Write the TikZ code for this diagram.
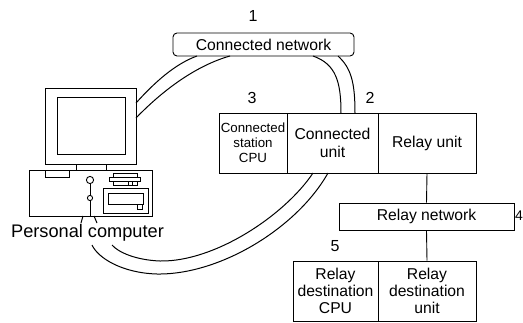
\documentclass[tikz,border=0pt]{standalone}
\usepackage{fontspec}
\setmainfont{Liberation Sans}
\begin{document}
\begin{tikzpicture}[x=1pt,y=-1pt,line width=0.9pt,
  lbl/.style={inner sep=0pt,align=center,font=\fontsize{15.7}{16.7}\selectfont},
  smalllbl/.style={inner sep=0pt,align=center,font=\fontsize{13.3}{14.8}\selectfont},
  numlbl/.style={inner sep=0pt,font=\fontsize{16}{18}\selectfont},
  unitbox/.style={draw,rectangle,inner sep=0pt,line width=0.9pt},
  cable/.style={line width=1pt}]
\useasboundingbox (0,0) rectangle (523,322);

% --- personal computer ---
\draw (45,88) rectangle (136,164);
\draw (57,97) rectangle (125,154);
\draw (76,164) rectangle (106,170);
\draw (29,170) rectangle (152,216);
\draw (45,170) rectangle (69,177);
\draw (90,180) circle (3.6);
\draw (90,198) circle (2.6);
\draw (90,183.6) -- (90,195.4);
\draw (90,200.6) -- (90,216);
% connector on the front panel
\draw (113,173) rectangle (137,177);
\draw (109,177) rectangle (140,181);
\draw (113,181) rectangle (137,185);
\draw (128,181) -- (128,185);
\draw (132,181) -- (132,185);
% drive bay
\draw (103,188) rectangle (148,213);
\draw (108,193) rectangle (143,204);
\draw (137,204) rectangle (142,209);
% cable stubs under the case
\draw[cable] (83,216) -- (81,223);
\draw[cable] (94,216) -- (97,223);
\node[inner sep=0pt,font=\fontsize{18.2}{20}\selectfont] (pc) at (87.5,233) {Personal computer};

% --- connected network ---
\node[numlbl] (n1) at (253,15.5) {1};
\node[draw,rounded corners=4pt,minimum width=181pt,minimum height=23pt,inner sep=0pt,lbl] (net) at (263.5,44.5) {Connected network};

% --- connected station ---
\node[numlbl] (n3) at (252,98) {3};
\node[numlbl] (n2) at (370,98) {2};
\node[unitbox,minimum width=68pt,minimum height=60pt,smalllbl] (cpu) at (253,143) {Connected\\station\\CPU};
\node[unitbox,minimum width=91pt,minimum height=60pt,lbl,font=\fontsize{15.7}{17.7}\selectfont] (cunit) at (332.5,143) {Connected\\unit};
\node[unitbox,minimum width=98pt,minimum height=60pt,lbl] (relay) at (427,143) {Relay unit};

% --- relay network ---
\node[unitbox,minimum width=175pt,minimum height=27pt,lbl] (rnet) at (426.5,216.5) {Relay network};
\node[numlbl,font=\fontsize{14}{16}\selectfont] (n4) at (519,216) {4};

% --- relay destination station ---
\node[numlbl] (n5) at (335,246) {5};
\node[unitbox,minimum width=85pt,minimum height=60pt,lbl] (dcpu) at (335.5,291) {Relay\\destination\\CPU};
\node[unitbox,minimum width=98pt,minimum height=60pt,lbl] (dunit) at (427,291) {Relay\\destination\\unit};

\draw (relay.south) -- (rnet.north);
\draw (rnet.south) -- (dunit.north);

% --- cable end points ---
\coordinate (mon1) at (136,103);
\coordinate (mon2) at (136,118);
\coordinate (netA) at (197,56);
\coordinate (netB) at (230,56);
\coordinate (netC) at (313,56);
\coordinate (netD) at (338,56);
\coordinate (cuA) at (341,113);
\coordinate (cuB) at (355,113);
\coordinate (cuC) at (313,173);
\coordinate (cuD) at (328,173);
\coordinate (pcA) at (112,245);
\coordinate (pcB) at (92,245);

% personal computer to connected network
\draw[cable] (mon1) .. controls (155,82) and (175,64) .. (netA);
\draw[cable] (mon2) .. controls (165,88) and (198,65) .. (netB);
% connected network to connected unit
\draw[cable] (netC) .. controls (336,64) and (341,82) .. (cuA);
\draw[cable] (netD) .. controls (351,68) and (355,82) .. (cuB);
% connected unit to personal computer
\draw[cable] (cuC) .. controls (285,215) and (215,262) .. (160,261) .. controls (135,260) and (118,252) .. (pcA);
\draw[cable] (cuD) .. controls (297,228) and (220,275) .. (157,274) .. controls (122,273) and (98,258) .. (pcB);
\end{tikzpicture}
\end{document}
